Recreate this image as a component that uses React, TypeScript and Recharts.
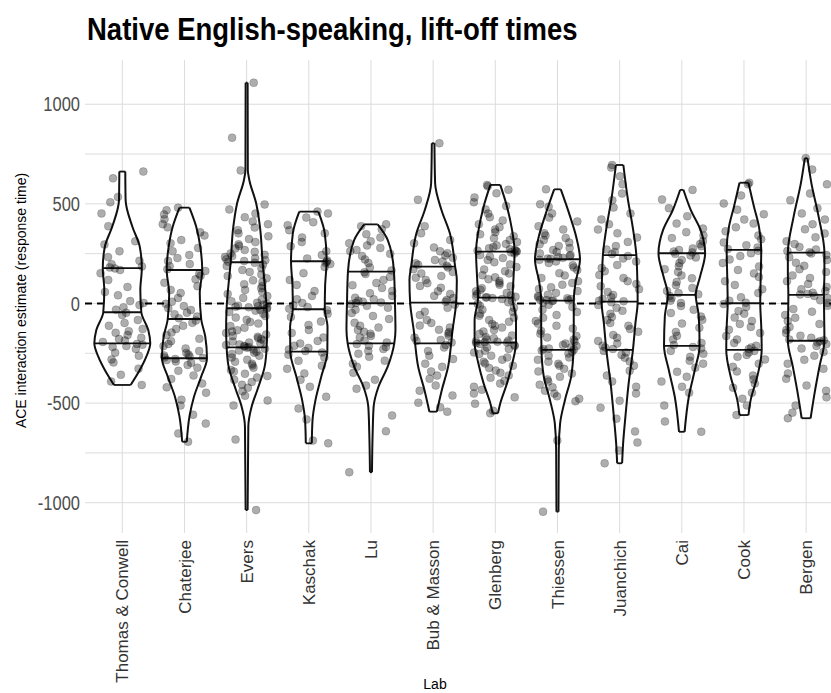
import React from 'react';
import { ComposedChart, Scatter, XAxis, YAxis, CartesianGrid, ReferenceLine } from 'recharts';

const LABS = ['Thomas & Conwell', 'Chaterjee', 'Evers', 'Kaschak', 'Lu', 'Bub & Masson', 'Glenberg', 'Thiessen', 'Juanchich', 'Cai', 'Cook', 'Bergen'];

// quartile lines drawn inside each violin
const Q25 = [-200, -275, -220, -242, -200, -200, -197, -233, -233, -213, -233, -187];
const MEDIANS = [-44, -78, -24, -29, 1, 4, 29, 14, 9, 43, 1, 43];
const Q75 = [177, 168, 207, 212, 160, 185, 260, 222, 243, 252, 269, 255];

// violin half-width (lab units) at each estimate, bottom to top
const THOMAS_DENSITY = [[-409, 0.134], [-334, 0.281], [-267, 0.386], [-200, 0.45], [-133, 0.418], [-44, 0.306], [68, 0.29], [177, 0.314], [285, 0.281], [386, 0.161], [520, 0.053], [662, 0.048]];
const CHATERJEE_DENSITY = [[-694, 0.037], [-568, 0.08], [-468, 0.153], [-367, 0.269], [-275, 0.362], [-167, 0.335], [-78, 0.269], [51, 0.246], [168, 0.286], [285, 0.254], [386, 0.188], [481, 0.08]];
const EVERS_DENSITY = [[-1037, 0.016], [-618, 0.027], [-518, 0.08], [-434, 0.172], [-317, 0.29], [-220, 0.322], [-120, 0.33], [-24, 0.322], [207, 0.257], [386, 0.214], [503, 0.153], [620, 0.043], [670, 0.019], [1108, 0.016]];
const KASCHAK_DENSITY = [[-702, 0.048], [-585, 0.06], [-484, 0.108], [-367, 0.201], [-242, 0.298], [-116, 0.301], [-29, 0.257], [84, 0.262], [212, 0.286], [352, 0.257], [461, 0.153]];
const LU_DENSITY = [[-847, 0.016], [-652, 0.027], [-518, 0.043], [-418, 0.121], [-317, 0.269], [-200, 0.375], [-133, 0.394], [1, 0.386], [160, 0.37], [319, 0.269], [397, 0.108]];
const BUB_DENSITY = [[-543, 0.06], [-434, 0.14], [-317, 0.241], [-200, 0.29], [-150, 0.306], [4, 0.37], [118, 0.381], [185, 0.354], [352, 0.269], [469, 0.134], [603, 0.032], [804, 0.021]];
const GLENBERG_DENSITY = [[-551, 0.043], [-501, 0.08], [-401, 0.188], [-300, 0.273], [-197, 0.333], [-83, 0.333], [29, 0.278], [135, 0.294], [260, 0.31], [369, 0.269], [486, 0.188], [595, 0.08]];
const THIESSEN_DENSITY = [[-1045, 0.016], [-735, 0.021], [-601, 0.043], [-484, 0.121], [-367, 0.22], [-233, 0.257], [-99, 0.262], [14, 0.262], [101, 0.29], [222, 0.362], [335, 0.301], [436, 0.204], [573, 0.053]];
const JUANCHICH_DENSITY = [[-802, 0.04], [-702, 0.056], [-568, 0.093], [-401, 0.145], [-233, 0.214], [-99, 0.254], [9, 0.29], [101, 0.286], [243, 0.269], [386, 0.209], [520, 0.134], [695, 0.06]];
const CAI_DENSITY = [[-644, 0.045], [-468, 0.113], [-334, 0.209], [-213, 0.286], [-66, 0.273], [43, 0.225], [135, 0.294], [252, 0.375], [369, 0.301], [469, 0.145], [570, 0.027]];
const COOK_DENSITY = [[-560, 0.072], [-484, 0.108], [-367, 0.214], [-233, 0.285], [-116, 0.278], [1, 0.262], [135, 0.269], [269, 0.278], [386, 0.241], [486, 0.161], [606, 0.072]];
const BERGEN_DENSITY = [[-576, 0.072], [-434, 0.145], [-317, 0.214], [-187, 0.294], [-66, 0.29], [43, 0.286], [152, 0.294], [255, 0.294], [436, 0.201], [603, 0.085], [729, 0.021]];

// individual participant estimates per lab
const THOMAS_PTS = [662, 628, 535, 508, 452, 388, 312, 296, 262, 233, 214, 197, 186, 181, 176, 168, 152, 118, 83, 41, 12, -8, -19, -31, 3, 58, -47, -58, -83, -98, -112, -128, -147, -158, -172, -178, -186, -193, -139, -203, -207, -214, -219, -228, -247, -262, -281, -296, -327, -358, -392, -409];
const CHATERJEE_PTS = [481, 468, 447, 423, 398, 382, 357, 341, 318, 302, 279, 262, 243, 228, 213, 198, 187, 172, 163, 148, 139, 121, 104, 87, 68, 52, 28, 9, -2, -13, -24, -33, -46, -54, -66, -74, -86, -97, -112, -128, -146, -158, -177, -189, -203, -214, -226, -238, -248, -256, -261, -266, -271, -274, -279, -284, -291, -298, -309, -322, -338, -361, -379, -402, -421, -448, -483, -512, -558, -603, -652, -694];
const EVERS_PTS = [1108, 832, 668, 497, 472, 451, 433, 412, 398, 381, 368, 352, 337, 323, 308, 297, 288, 276, 268, 259, 251, 244, 238, 233, 227, 222, 217, 213, 209, 204, 196, 188, 177, 168, 158, 146, 138, 127, 116, 108, 97, 88, 77, 68, 57, 48, 37, 28, 19, 11, 4, -2, -7, -11, -14, -17, -19, -22, -27, -32, -36, -43, -52, -63, -71, -82, -93, -101, -113, -122, -134, -141, -148, -156, -163, -167, -174, -179, -186, -191, -196, -201, -206, -209, -213, -216, -218, -222, -227, -231, -236, -242, -247, -253, -262, -271, -283, -292, -303, -311, -322, -334, -342, -353, -364, -372, -383, -394, -408, -423, -441, -463, -487, -512, -683, -1037];
const KASCHAK_PTS = [461, 452, 431, 408, 393, 368, 352, 331, 308, 287, 262, 243, 226, 216, 209, 204, 198, 183, 152, 118, 93, 62, 38, 21, 2, -9, -18, -26, -34, -52, -68, -91, -108, -133, -148, -171, -188, -201, -212, -223, -231, -239, -246, -257, -271, -288, -312, -328, -351, -383, -418, -468, -527, -582, -688, -702];
const LU_PTS = [397, 388, 372, 348, 331, 312, 302, 291, 279, 268, 262, 249, 238, 221, 203, 181, 166, 157, 148, 133, 118, 103, 92, 78, 62, 51, 38, 29, 21, 14, 9, 5, 2, -4, -12, -21, -32, -48, -63, -78, -97, -112, -121, -133, -142, -152, -163, -171, -186, -196, -204, -212, -218, -229, -238, -252, -268, -287, -302, -318, -348, -383, -412, -428, -562, -641, -847];
const BUB_PTS = [804, 521, 388, 352, 318, 302, 281, 262, 252, 241, 229, 218, 211, 202, 194, 189, 181, 172, 158, 151, 138, 129, 118, 102, 88, 79, 61, 48, 38, 27, 18, 9, -6, -22, -41, -58, -83, -98, -111, -121, -132, -143, -151, -162, -171, -183, -188, -196, -208, -221, -238, -262, -279, -302, -318, -341, -362, -378, -412, -438, -462, -498, -521, -543];
const GLENBERG_PTS = [595, 588, 571, 553, 532, 508, 489, 472, 451, 433, 417, 398, 383, 371, 358, 347, 338, 327, 318, 308, 298, 291, 283, 277, 272, 268, 265, 262, 261, 257, 251, 243, 236, 228, 218, 207, 196, 183, 171, 162, 151, 142, 131, 122, 113, 103, 94, 86, 77, 68, 61, 53, 47, 41, 37, 34, 31, 30, 27, 22, 14, 6, -3, -12, -22, -31, -42, -51, -62, -71, -83, -92, -103, -112, -121, -133, -141, -152, -161, -168, -174, -181, -186, -189, -192, -194, -196, -199, -203, -208, -214, -221, -228, -237, -246, -253, -262, -271, -282, -293, -301, -312, -324, -337, -348, -361, -373, -388, -402, -418, -433, -452, -471, -503, -538, -551];
const THIESSEN_PTS = [573, 498, 486, 452, 431, 412, 388, 371, 352, 341, 329, 318, 306, 297, 288, 278, 268, 258, 251, 243, 238, 233, 229, 226, 224, 219, 211, 203, 192, 181, 168, 152, 141, 128, 112, 103, 94, 82, 73, 62, 53, 44, 37, 31, 26, 22, 19, 17, 16, 15, 12, 4, -6, -18, -31, -43, -58, -72, -88, -101, -112, -126, -138, -152, -163, -171, -182, -191, -201, -208, -214, -221, -226, -229, -231, -236, -242, -251, -262, -271, -283, -292, -303, -312, -328, -341, -352, -368, -381, -392, -408, -421, -438, -452, -466, -478, -491, -688, -1045];
const JUANCHICH_PTS = [695, 682, 638, 598, 552, 518, 482, 451, 422, 398, 371, 352, 331, 309, 288, 271, 258, 248, 238, 226, 211, 193, 178, 162, 143, 128, 112, 98, 87, 72, 58, 43, 31, 22, 14, 11, 6, -8, -22, -37, -52, -68, -83, -98, -112, -128, -142, -158, -172, -188, -201, -212, -221, -229, -238, -246, -258, -272, -291, -312, -338, -362, -391, -418, -452, -488, -523, -578, -642, -698, -738, -802];
const CAI_PTS = [570, 522, 478, 438, 401, 376, 358, 341, 328, 312, 298, 287, 276, 268, 261, 256, 249, 241, 231, 218, 203, 187, 172, 158, 141, 126, 108, 92, 78, 63, 52, 46, 38, 27, 14, 2, -13, -31, -48, -66, -82, -101, -122, -143, -162, -181, -198, -209, -218, -226, -238, -252, -268, -287, -302, -322, -343, -368, -392, -418, -448, -512, -592, -644];
const COOK_PTS = [606, 598, 542, 502, 471, 448, 421, 401, 382, 362, 341, 322, 306, 292, 281, 273, 264, 252, 238, 221, 203, 186, 168, 151, 133, 112, 93, 72, 52, 31, 14, 4, -3, -18, -38, -52, -71, -88, -103, -118, -132, -148, -163, -181, -198, -212, -221, -229, -238, -246, -258, -268, -281, -302, -318, -341, -362, -381, -402, -423, -448, -478, -512, -560];
const BERGEN_PTS = [729, 672, 598, 552, 518, 478, 452, 421, 398, 372, 351, 332, 312, 298, 284, 271, 263, 257, 251, 243, 232, 218, 204, 189, 172, 158, 141, 128, 112, 98, 83, 71, 62, 54, 48, 45, 38, 28, 16, 3, -12, -28, -41, -58, -72, -88, -103, -118, -133, -148, -162, -172, -181, -185, -189, -196, -204, -213, -226, -243, -262, -283, -302, -328, -351, -378, -412, -438, -471, -512, -548, -576];

const DENSITIES = [THOMAS_DENSITY, CHATERJEE_DENSITY, EVERS_DENSITY, KASCHAK_DENSITY, LU_DENSITY, BUB_DENSITY, GLENBERG_DENSITY, THIESSEN_DENSITY, JUANCHICH_DENSITY, CAI_DENSITY, COOK_DENSITY, BERGEN_DENSITY];
const POINTS = [THOMAS_PTS, CHATERJEE_PTS, EVERS_PTS, KASCHAK_PTS, LU_PTS, BUB_PTS, GLENBERG_PTS, THIESSEN_PTS, JUANCHICH_PTS, CAI_PTS, COOK_PTS, BERGEN_PTS];

const Y_TICKS = [-1000, -500, 0, 500, 1000];
const GRID_Y = [-1000, -750, -500, -250, 0, 250, 500, 750, 1000];
const X_TICKS = LABS.map((_, i) => i + 1);

// half-width of a violin at value v (linear between profile rows)
const widthAt = (prof: number[][], v: number) => {
  for (let j = 0; j < prof.length - 1; j++) {
    const [v0, w0] = prof[j];
    const [v1, w1] = prof[j + 1];
    if (v >= v0 && v <= v1) return w0 + ((v - v0) / (v1 - v0)) * (w1 - w0);
  }
  return 0;
};

// deterministic horizontal jitter so the dots don't stack on the lab line
const jitter = (lab: number, k: number) => {
  const s = Math.sin((lab + 1) * 91.7 + k * 12.9898) * 43758.5453;
  return (s - Math.floor(s) - 0.5) * 0.7;
};

const violins = DENSITIES.map((prof, i) => {
  const c = i + 1;
  const left = prof.map(([v, w]) => ({ x: c - w, y: v }));
  const right = prof.map(([v, w]) => ({ x: c + w, y: v }));
  const body = [...left, ...right.slice().reverse()];
  const lo = prof[0];
  const hi = prof[prof.length - 1];
  const segments = [
    [{ x: c - lo[1], y: lo[0] }, { x: c + lo[1], y: lo[0] }],
    [{ x: c - hi[1], y: hi[0] }, { x: c + hi[1], y: hi[0] }],
    ...[Q25[i], MEDIANS[i], Q75[i]].map((q) => {
      const w = widthAt(prof, q);
      return [{ x: c - w, y: q }, { x: c + w, y: q }];
    }),
  ];
  return { left, right, body, segments };
});

const dots = POINTS.flatMap((vals, i) => vals.map((v, k) => ({ x: i + 1 + jitter(i, k), y: v })));

const noMarker = () => <g />;

const Dot = (p: any) => (
  <circle cx={p.cx} cy={p.cy} r={4} fill="#000" fillOpacity={0.32} stroke="#000" strokeOpacity={0.2} strokeWidth={0.8} />
);

const LabTick = ({ x, y, payload }: any) => (
  <text
    transform={`translate(${x},${y}) rotate(-90)`}
    textAnchor="end"
    dy="0.36em"
    fontSize={17}
    fill="#333"
  >
    {LABS[payload.value - 1]}
  </text>
);

// value ticks are set a little taller than wide
const ValueTick = ({ x, y, payload }: any) => (
  <text transform={`translate(${x},${y}) scale(1,1.2)`} textAnchor="end" dy="0.36em" fontSize={16.5} fill="#4d4d4d">
    {payload.value}
  </text>
);

const YTitle = ({ viewBox }: any) => (
  <text
    transform={`translate(${viewBox.x + 21},${viewBox.y + viewBox.height / 2 + 4}) rotate(-90)`}
    textAnchor="middle"
    dy="0.36em"
    fontSize={14}
    fill="#000"
  >
    ACE interaction estimate (response time)
  </text>
);

const XTitle = ({ viewBox }: any) => (
  <text x={viewBox.x + 350} y={viewBox.y + 156} textAnchor="middle" fontSize={14} fill="#000">
    Lab
  </text>
);

export default function App() {
  return (
    <div style={{ position: 'absolute', left: 0, top: 0, width: 831, height: 693, background: '#fff', fontFamily: '"Liberation Sans", Arial, sans-serif' }}>
      <div
        style={{
          position: 'absolute',
          left: 87,
          top: 14,
          fontSize: 27.5,
          lineHeight: '27.5px',
          fontWeight: 'bold',
          color: '#000',
          whiteSpace: 'nowrap',
          transform: 'scaleY(1.12)',
          transformOrigin: 'left top',
        }}
      >
        Native English-speaking, lift-off times
      </div>
      <ComposedChart width={831} height={693} margin={{ top: 60, right: 0, bottom: 0, left: 0 }}>
        <CartesianGrid stroke="#dcdcdc" strokeWidth={1} horizontalValues={GRID_Y} verticalValues={X_TICKS} />
        <XAxis
          type="number"
          dataKey="x"
          domain={[0.4, 12.4]}
          ticks={X_TICKS}
          interval={0}
          allowDataOverflow
          height={160}
          tickLine={false}
          axisLine={false}
          tickSize={0}
          tickMargin={7}
          tick={<LabTick />}
          label={<XTitle />}
        />
        <YAxis
          type="number"
          dataKey="y"
          domain={[-1152, 1222]}
          ticks={Y_TICKS}
          allowDataOverflow
          width={85}
          tickLine={false}
          axisLine={false}
          tickSize={0}
          tickMargin={5}
          tick={<ValueTick />}
          label={<YTitle />}
        />
        <ReferenceLine y={0} stroke="#000" strokeWidth={2} strokeDasharray="7 5" />
        {violins.map((vl, i) => (
          <Scatter
            key={`body-${i}`}
            data={vl.body}
            shape={noMarker}
            line={{ stroke: 'none', fill: '#fff' }}
            lineJointType="linear"
            isAnimationActive={false}
          />
        ))}
        {violins.flatMap((vl, i) => [
          <Scatter
            key={`left-${i}`}
            data={vl.left}
            shape={noMarker}
            line={{ stroke: '#111', strokeWidth: 2 }}
            lineJointType="monotoneY"
            isAnimationActive={false}
          />,
          <Scatter
            key={`right-${i}`}
            data={vl.right}
            shape={noMarker}
            line={{ stroke: '#111', strokeWidth: 2 }}
            lineJointType="monotoneY"
            isAnimationActive={false}
          />,
          ...vl.segments.map((seg, j) => (
            <Scatter
              key={`seg-${i}-${j}`}
              data={seg}
              shape={noMarker}
              line={{ stroke: '#111', strokeWidth: 1.8 }}
              isAnimationActive={false}
            />
          )),
        ])}
        <Scatter data={dots} shape={Dot} isAnimationActive={false} />
      </ComposedChart>
    </div>
  );
}
